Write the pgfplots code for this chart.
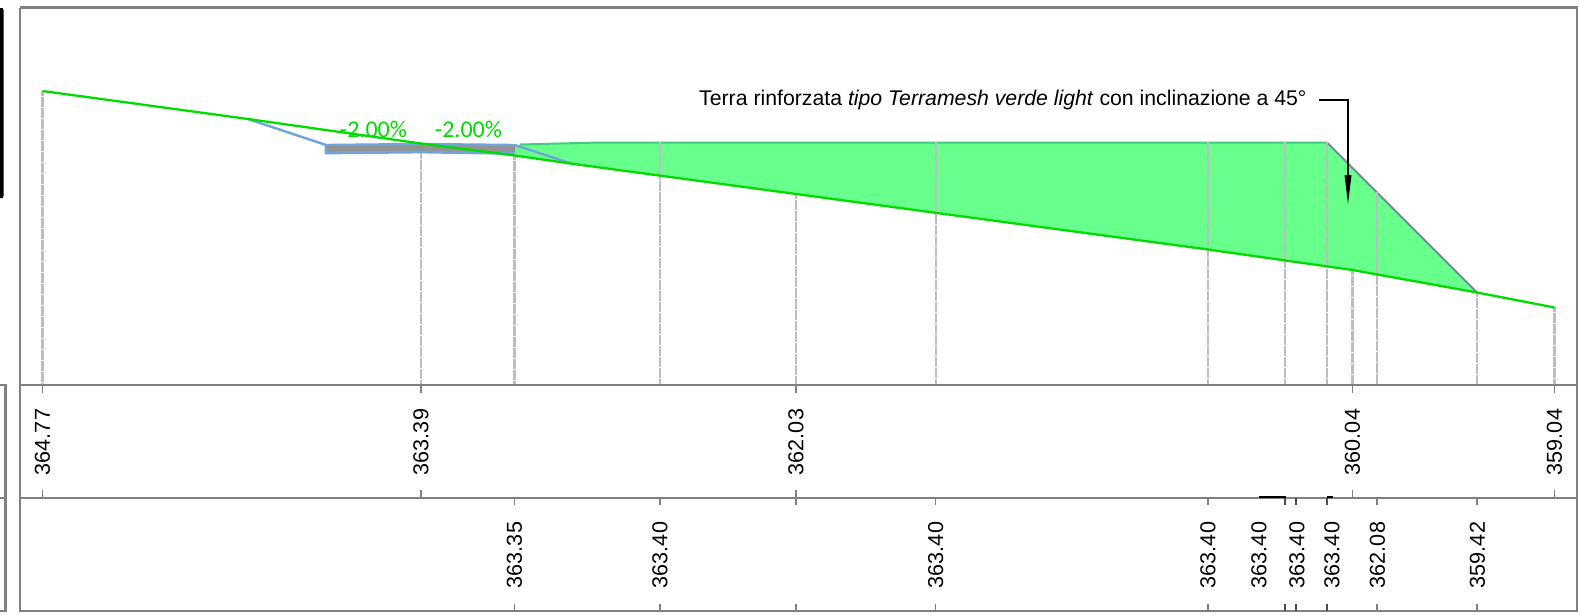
\documentclass[border=0pt]{standalone}
\usepackage{pgfplots}
\pgfplotsset{compat=1.18}
\usepackage{fontspec}
\setmainfont{Liberation Sans}
\newfontfamily\slopefont{Carlito}
\definecolor{framegray}{HTML}{808080}
\definecolor{guidegray}{HTML}{BDBDBD}
\definecolor{groundgreen}{HTML}{00DC00}
\definecolor{fillgreen}{HTML}{69FF8C}
\definecolor{roadblue}{HTML}{6FA5DC}
\definecolor{roadgray}{HTML}{939393}
\definecolor{topgreen}{HTML}{3FCB78}
\definecolor{slopegray}{HTML}{6F8C9C}
\begin{document}
\begin{tikzpicture}
\begin{axis}[
  scale only axis, width=1580pt, height=614pt,
  xmin=0, xmax=1580, ymin=0, ymax=614, y dir=reverse,
  hide axis, clip=true, unbounded coords=jump,
  every axis plot/.append style={line join=miter, line cap=butt},
]
\addplot[draw=none, fill=white] coordinates {(0,0) (1580,0) (1580,614) (0,614) (0,0)};
% left side-box and black bar
\addplot[framegray, line width=2.2pt] coordinates {(0,385) (5.5,385) (5.5,611) (0,611) (5.5,611) (5.5,498) (0,498)};
\addplot[draw=none, fill=black] coordinates {(0,8) (2.6,8) (3.6,10) (3.6,196) (2.6,198) (0,198)};
% fill of embankment
\addplot[draw=none, fill=fillgreen] coordinates {(514.5,145) (600,143) (1327,142.5) (1477,292.5) (1352,270) (796,194) (574,164) (514.5,156)};
\addplot[topgreen, line width=2pt] coordinates {(520,144.5) (600,142.5) (1327,142.5)};
\addplot[slopegray, line width=2pt] coordinates {(1327,142.5) (1477,292.5)};
% guides
\addplot[guidegray, line width=2.2pt, dash pattern=on 5pt off 0.5pt] coordinates {
(42.5,91) (42.5,385) (42.5,nan)
(421,143) (421,385) (421,nan)
(514.5,144) (514.5,385) (514.5,nan)
(660,142) (660,385) (660,nan)
(796,194) (796,385) (796,nan)
(935.6,142) (935.6,385) (935.6,nan)
(1208,142) (1208,385) (1208,nan)
(1285,142) (1285,385) (1285,nan)
(1327,142) (1327,385) (1327,nan)
(1352.5,270) (1352.5,385) (1352.5,nan)
(1377,192) (1377,385) (1377,nan)
(1477,292) (1477,385) (1477,nan)
(1554.5,307) (1554.5,385)
};
% road
\addplot[draw=none, fill=roadgray] coordinates {(326,145) (514.5,145) (514.5,152) (326,152)};
\addplot[roadblue, line width=2.4pt] coordinates {(248,119) (326,145) (421,144) (514.5,145)};
\addplot[roadblue, line width=2.8pt] coordinates {(326,144) (326,153) (421,152) (514.5,153.5)};
\addplot[roadblue, line width=2.4pt] coordinates {(514.5,145) (573,164)};
% ground
\addplot[groundgreen, line width=2.3pt] coordinates {(42.5,91) (248,119) (421,143.5) (514.5,155.5) (574,164) (796,194) (1208,249.5) (1352.5,270) (1477,292.5) (1554.5,307.5)};
% frames
\addplot[framegray, line width=2.4pt] coordinates {(20,7.5) (1577,7.5) (1577,611) (20,611) (20,7.5)};
\addplot[framegray, line width=2.4pt] coordinates {(20,385) (1577,385)};
\addplot[framegray, line width=2.4pt] coordinates {(20,498) (1577,498)};
% ticks
\addplot[framegray, line width=1.5pt] coordinates {
(42.5,385) (42.5,393) (42.5,nan) (42.5,490) (42.5,498) (42.5,nan)
(421,385) (421,393) (421,nan) (421,490) (421,498) (421,nan)
(796,385) (796,393) (796,nan) (796,490) (796,498) (796,nan)
(1352.5,385) (1352.5,393) (1352.5,nan) (1352.5,490) (1352.5,498) (1352.5,nan)
(1554.5,385) (1554.5,393) (1554.5,nan) (1554.5,490) (1554.5,498) (1554.5,nan)
(514.5,498) (514.5,505) (514.5,nan) (514.5,604) (514.5,611) (514.5,nan)
(660,498) (660,505) (660,nan) (660,604) (660,611) (660,nan)
(796,498) (796,505) (796,nan) (796,604) (796,611) (796,nan)
(935.6,498) (935.6,505) (935.6,nan) (935.6,604) (935.6,611) (935.6,nan)
(1208,498) (1208,505) (1208,nan) (1208,604) (1208,611) (1208,nan)
(1377,498) (1377,505) (1377,nan) (1377,604) (1377,611) (1377,nan)
(1477,498) (1477,505) (1477,nan) (1477,604) (1477,611)
};
\addplot[black!70, line width=1.5pt] coordinates {
(1285,498) (1285,505) (1285,nan) (1285,604) (1285,611) (1285,nan)
(1296,498) (1296,505) (1296,nan) (1296,604) (1296,611) (1296,nan)
(1327,498) (1327,505) (1327,nan) (1327,604) (1327,611)
};
\addplot[black, line width=2pt] coordinates {(1259,497.4) (1286,497.4) (1286,nan) (1327,497.4) (1333,497.4)};
% leader arrow
\addplot[black, line width=1.8pt] coordinates {(1319,100) (1348,100) (1348,180)};
\addplot[draw=none, fill=black] coordinates {(1344.5,175) (1351.5,175) (1348,204)};
% texts
\def\tl{\fontsize{21.6}{24}\selectfont}
\node[rotate=90, font=\tl] at (axis cs:42.5,442) {364.77};
\node[rotate=90, font=\tl] at (axis cs:421,442) {363.39};
\node[rotate=90, font=\tl] at (axis cs:796,442) {362.03};
\node[rotate=90, font=\tl] at (axis cs:1352.5,442) {360.04};
\node[rotate=90, font=\tl] at (axis cs:1554.5,442) {359.04};
\node[rotate=90, font=\tl] at (axis cs:514.5,555) {363.35};
\node[rotate=90, font=\tl] at (axis cs:660,555) {363.40};
\node[rotate=90, font=\tl] at (axis cs:935.6,555) {363.40};
\node[rotate=90, font=\tl] at (axis cs:1208,555) {363.40};
\node[rotate=90, font=\tl] at (axis cs:1259,555) {363.40};
\node[rotate=90, font=\tl] at (axis cs:1297,555) {363.40};
\node[rotate=90, font=\tl] at (axis cs:1332,555) {363.40};
\node[rotate=90, font=\tl] at (axis cs:1377.5,555) {362.08};
\node[rotate=90, font=\tl] at (axis cs:1477.5,555) {359.42};
\node[anchor=west, inner sep=0pt, font=\fontsize{21.25}{24}\selectfont] at (axis cs:699,100) {Terra rinforzata \textit{tipo Terramesh verde light} con inclinazione a 45°};
\node[text=groundgreen, inner sep=0pt, font=\slopefont\fontsize{24}{28}\selectfont] at (axis cs:373.5,129) {-2.00\%};
\node[text=groundgreen, inner sep=0pt, font=\slopefont\fontsize{24}{28}\selectfont] at (axis cs:468.5,129) {-2.00\%};
\end{axis}
\end{tikzpicture}
\end{document}
